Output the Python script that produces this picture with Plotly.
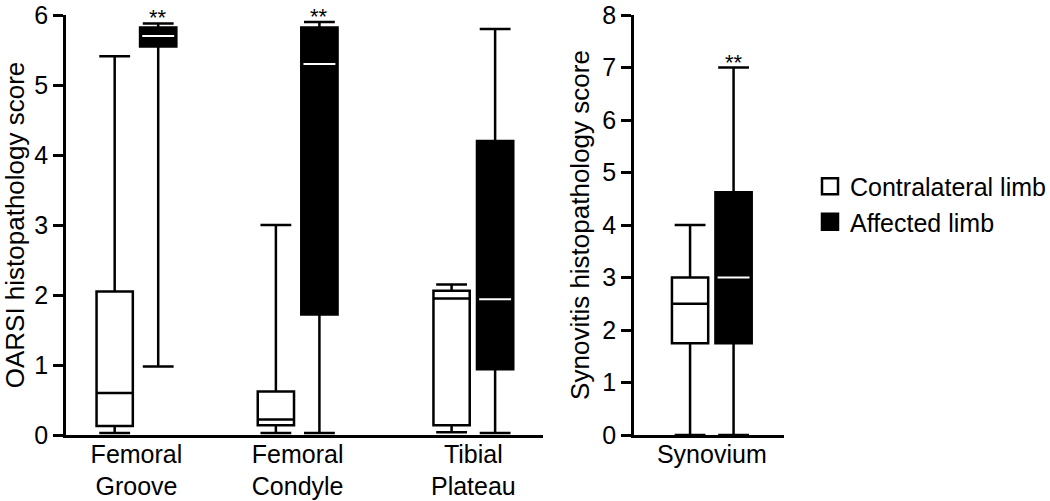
import plotly.graph_objects as go

# ---------------- data ----------------
categories = ["Femoral<br>Groove", "Femoral<br>Condyle", "Tibial<br>Plateau"]

contra_lower = [0.03, 0.03, 0.04]
contra_q1 = [0.13, 0.14, 0.14]
contra_median = [0.60, 0.22, 1.95]
contra_q3 = [2.05, 0.62, 2.06]
contra_upper = [5.41, 3.00, 2.15]

affected_lower = [0.98, 0.03, 0.03]
affected_q1 = [5.55, 1.72, 0.94]
affected_median = [5.70, 5.30, 1.94]
affected_q3 = [5.82, 5.82, 4.20]
affected_upper = [5.88, 5.90, 5.80]

oarsi_significance = ["**", "**", ""]

syn_categories = ["Synovium"]
syn_contra_lower = [0.0]
syn_contra_q1 = [1.75]
syn_contra_median = [2.5]
syn_contra_q3 = [3.0]
syn_contra_upper = [4.0]

syn_affected_lower = [0.0]
syn_affected_q1 = [1.75]
syn_affected_median = [3.0]
syn_affected_q3 = [4.625]
syn_affected_upper = [7.0]

syn_significance = ["**"]

series_names = ["Contralateral limb", "Affected limb"]

# ---------------- layout constants ----------------
FONT = "Liberation Sans, Arial, Helvetica, sans-serif"
group_pos = [0.0, 1.0, 2.09]
syn_pos = [0.0]
OFF = 0.135
BOX_W = 0.225
LW = 2.5

fig = go.Figure()


def box_trace(xs, lo, q1, med, q3, hi, fill, xa, ya):
    return go.Box(
        x=xs, lowerfence=lo, q1=q1, median=med, q3=q3, upperfence=hi,
        fillcolor=fill, line=dict(color="black", width=LW),
        width=BOX_W, whiskerwidth=0.85, boxpoints=False,
        xaxis=xa, yaxis=ya, showlegend=False, hoverinfo="skip",
    )


# left panel (OARSI)
fig.add_trace(box_trace([p - OFF for p in group_pos], contra_lower, contra_q1, contra_median,
                        contra_q3, contra_upper, "white", "x", "y"))
fig.add_trace(box_trace([p + OFF for p in group_pos], affected_lower, affected_q1, affected_median,
                        affected_q3, affected_upper, "black", "x", "y"))
# right panel (Synovitis)
fig.add_trace(box_trace([p - OFF for p in syn_pos], syn_contra_lower, syn_contra_q1, syn_contra_median,
                        syn_contra_q3, syn_contra_upper, "white", "x2", "y2"))
fig.add_trace(box_trace([p + OFF for p in syn_pos], syn_affected_lower, syn_affected_q1, syn_affected_median,
                        syn_affected_q3, syn_affected_upper, "black", "x2", "y2"))


# white median lines on the filled (affected) boxes
def median_lines(pos, med, xa, ya):
    xs, ys = [], []
    half = BOX_W / 2 * 0.88
    for p, m in zip(pos, med):
        xs += [p + OFF - half, p + OFF + half, None]
        ys += [m, m, None]
    return go.Scatter(x=xs, y=ys, mode="lines", line=dict(color="white", width=2),
                      xaxis=xa, yaxis=ya, showlegend=False, hoverinfo="skip")


fig.add_trace(median_lines(group_pos, affected_median, "x", "y"))
fig.add_trace(median_lines(syn_pos, syn_affected_median, "x2", "y2"))

# legend entries
fig.add_trace(go.Scatter(x=[None], y=[None], mode="markers", name=series_names[0],
                         marker=dict(symbol="square", size=26, color="white",
                                     line=dict(color="black", width=2.5))))
fig.add_trace(go.Scatter(x=[None], y=[None], mode="markers", name=series_names[1],
                         marker=dict(symbol="square", size=26, color="black",
                                     line=dict(color="black", width=2.5))))

# significance stars
STAR_FONT = dict(size=22, color="black", family=FONT)
annotations = []
for p, hi, s in zip(group_pos, affected_upper, oarsi_significance):
    if s:
        annotations.append(dict(x=p + OFF, y=hi, xref="x", yref="y", text=s, showarrow=False,
                                yanchor="bottom", yshift=-9, font=STAR_FONT))
for p, hi, s in zip(syn_pos, syn_affected_upper, syn_significance):
    if s:
        annotations.append(dict(x=p + OFF, y=hi, xref="x2", yref="y2", text=s, showarrow=False,
                                yanchor="bottom", yshift=-9, font=STAR_FONT))

axis_common = dict(showgrid=False, zeroline=False, showline=True, linecolor="black",
                   linewidth=LW, automargin=False, ticklabeloverflow="allow",
                   tickfont=dict(size=25, color="black", family=FONT))
TITLE_FONT = dict(size=26, color="black", family=FONT)

FIG_W, FIG_H = 1050, 501
L_MARGIN, R_MARGIN = 66, 2
PW = FIG_W - L_MARGIN - R_MARGIN


def px2paper(page_px):
    return (page_px - L_MARGIN) / PW


fig.update_layout(
    width=FIG_W, height=FIG_H,
    margin=dict(l=L_MARGIN, r=R_MARGIN, t=15, b=66, autoexpand=False),
    plot_bgcolor="white", paper_bgcolor="white",
    font=dict(family=FONT, size=25, color="black"),
    boxmode="overlay",
    xaxis=dict(domain=[0, px2paper(543)], range=[-0.437, 2.522], tickmode="array",
               tickvals=group_pos, ticktext=categories, ticks="", ticklabelstandoff=-5,
               **axis_common),
    yaxis=dict(range=[0, 6], tickvals=[0, 1, 2, 3, 4, 5, 6], ticks="outside", ticklen=10,
               tickwidth=LW, tickcolor="black",
               title=dict(text="OARSI histopathology score", font=TITLE_FONT, standoff=6),
               **axis_common),
    xaxis2=dict(domain=[px2paper(634), px2paper(784)], range=[-0.483, 0.448], tickmode="array",
                tickvals=syn_pos, ticktext=syn_categories, ticks="", anchor="y2",
                ticklabelstandoff=-5, **axis_common),
    yaxis2=dict(range=[0, 8], tickvals=list(range(9)), ticks="outside", ticklen=10,
                tickwidth=LW, tickcolor="black", anchor="x2",
                title=dict(text="Synovitis histopathology score", font=TITLE_FONT, standoff=6),
                **axis_common),
    legend=dict(x=px2paper(810), xanchor="left", y=0.55, yanchor="middle",
                font=dict(size=25, color="black", family=FONT), itemsizing="trace",
                bgcolor="rgba(0,0,0,0)"),
    annotations=annotations,
)

# remove the browser's default 8px body margin so the figure sits at the window origin
fig.write_html("out.html", config={"displayModeBar": False},
               post_script="document.body.style.margin='0';")
